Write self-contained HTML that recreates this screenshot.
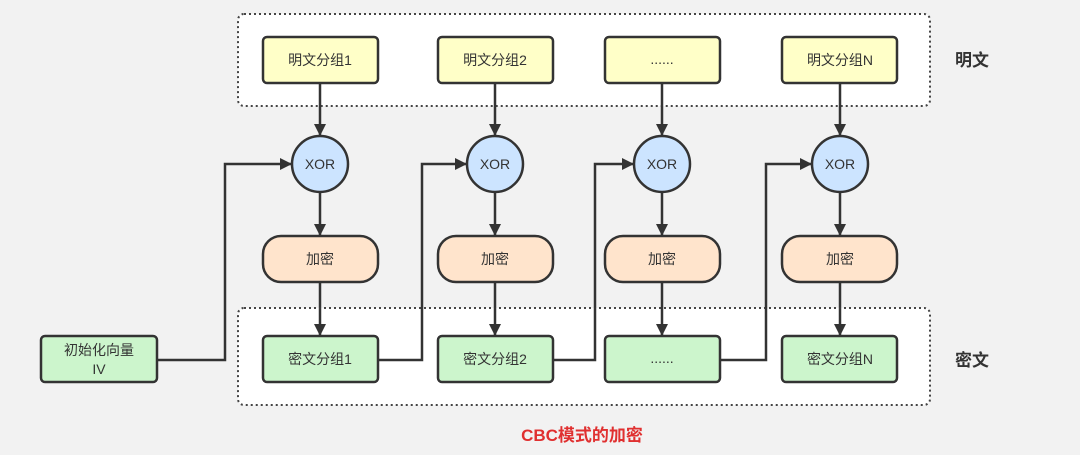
<!DOCTYPE html>
<html><head><meta charset="utf-8"><style>
html,body{margin:0;padding:0;background:#f2f2f2;}
svg{display:block;}
text{font-family:"Liberation Sans","Noto Sans CJK SC",sans-serif;fill:#333;}
</style></head><body>
<svg width="1080" height="455" viewBox="0 0 1080 455" xmlns="http://www.w3.org/2000/svg">
<defs>
<marker id="a" markerWidth="12" markerHeight="12" refX="11" refY="6" orient="auto" markerUnits="userSpaceOnUse">
<path d="M0,0 L12,6 L0,12 z" fill="#333"/>
</marker>
</defs>
<rect width="1080" height="455" fill="#f2f2f2"/>
<rect x="238" y="14" width="692" height="92" rx="6" fill="#fff" stroke="#444" stroke-width="2" stroke-dasharray="2,3"/>
<rect x="238" y="308" width="692" height="97" rx="6" fill="#fff" stroke="#444" stroke-width="2" stroke-dasharray="2,3"/>
<g stroke="#333" stroke-width="2.5" fill="none">
<line x1="320" y1="83" x2="320" y2="135" marker-end="url(#a)"/>
<line x1="495" y1="83" x2="495" y2="135" marker-end="url(#a)"/>
<line x1="662" y1="83" x2="662" y2="135" marker-end="url(#a)"/>
<line x1="840" y1="83" x2="840" y2="135" marker-end="url(#a)"/>
<line x1="320" y1="193" x2="320" y2="235" marker-end="url(#a)"/>
<line x1="495" y1="193" x2="495" y2="235" marker-end="url(#a)"/>
<line x1="662" y1="193" x2="662" y2="235" marker-end="url(#a)"/>
<line x1="840" y1="193" x2="840" y2="235" marker-end="url(#a)"/>
<line x1="320" y1="282" x2="320" y2="335" marker-end="url(#a)"/>
<line x1="495" y1="282" x2="495" y2="335" marker-end="url(#a)"/>
<line x1="662" y1="282" x2="662" y2="335" marker-end="url(#a)"/>
<line x1="840" y1="282" x2="840" y2="335" marker-end="url(#a)"/>
<polyline points="157,360 225,360 225,164 291,164" marker-end="url(#a)"/>
<polyline points="378,360 422,360 422,164 466,164" marker-end="url(#a)"/>
<polyline points="553,360 595,360 595,164 633,164" marker-end="url(#a)"/>
<polyline points="720,360 766,360 766,164 811,164" marker-end="url(#a)"/>
</g>
<g stroke="#333" stroke-width="2.5">
<rect x="263" y="37" width="115" height="46" rx="4" fill="#ffffc8"/>
<rect x="438" y="37" width="115" height="46" rx="4" fill="#ffffc8"/>
<rect x="605" y="37" width="115" height="46" rx="4" fill="#ffffc8"/>
<rect x="782" y="37" width="115" height="46" rx="4" fill="#ffffc8"/>
<circle cx="320" cy="164" r="28" fill="#cce4ff"/>
<circle cx="495" cy="164" r="28" fill="#cce4ff"/>
<circle cx="662" cy="164" r="28" fill="#cce4ff"/>
<circle cx="840" cy="164" r="28" fill="#cce4ff"/>
<rect x="263" y="236" width="115" height="46" rx="18" fill="#ffe4cc"/>
<rect x="438" y="236" width="115" height="46" rx="18" fill="#ffe4cc"/>
<rect x="605" y="236" width="115" height="46" rx="18" fill="#ffe4cc"/>
<rect x="782" y="236" width="115" height="46" rx="18" fill="#ffe4cc"/>
<rect x="263" y="336" width="115" height="46" rx="4" fill="#ccf5cc"/>
<rect x="438" y="336" width="115" height="46" rx="4" fill="#ccf5cc"/>
<rect x="605" y="336" width="115" height="46" rx="4" fill="#ccf5cc"/>
<rect x="782" y="336" width="115" height="46" rx="4" fill="#ccf5cc"/>
<rect x="41" y="336" width="116" height="46" rx="4" fill="#ccf5cc"/>
</g>
<g font-size="14" text-anchor="middle">
<text x="320" y="65">明文分组1</text>
<text x="495" y="65">明文分组2</text>
<text x="662" y="64">......</text>
<text x="840" y="65">明文分组N</text>
<text x="320" y="169">XOR</text>
<text x="495" y="169">XOR</text>
<text x="662" y="169">XOR</text>
<text x="840" y="169">XOR</text>
<text x="320" y="264">加密</text>
<text x="495" y="264">加密</text>
<text x="662" y="264">加密</text>
<text x="840" y="264">加密</text>
<text x="320" y="364">密文分组1</text>
<text x="495" y="364">密文分组2</text>
<text x="662" y="363">......</text>
<text x="840" y="364">密文分组N</text>
<text x="99" y="355">初始化向量</text>
<text x="99" y="374">IV</text>
</g>
<g font-size="17" font-weight="bold" text-anchor="middle">
<text x="972" y="66">明文</text>
<text x="972" y="366">密文</text>
<text x="582" y="441" style="fill:#e03030">CBC模式的加密</text>
</g>
</svg>
</body></html>
